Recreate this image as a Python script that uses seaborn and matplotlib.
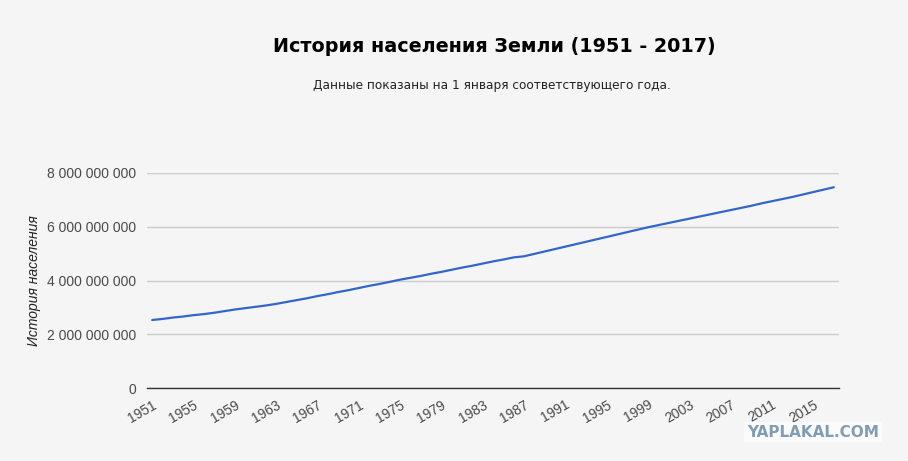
import matplotlib
matplotlib.use('Agg')
import matplotlib.pyplot as plt
import matplotlib.ticker as mticker
import numpy as np
import pandas as pd
import seaborn as sns

# население на 1 января, млрд
years = list(range(1951, 2018))
population_bn = [
    2.53, 2.57, 2.62, 2.66, 2.71, 2.75, 2.80, 2.86, 2.92, 2.97,
    3.02, 3.07, 3.13, 3.20, 3.27, 3.34, 3.42, 3.49, 3.57, 3.64,
    3.72, 3.80, 3.87, 3.95, 4.03, 4.10, 4.17, 4.25, 4.32, 4.40,
    4.48, 4.55, 4.63, 4.71, 4.78, 4.86, 4.90, 4.99, 5.08, 5.17,
    5.26, 5.35, 5.44, 5.53, 5.62, 5.71, 5.80, 5.89, 5.98, 6.06,
    6.14, 6.22, 6.30, 6.38, 6.46, 6.54, 6.62, 6.70, 6.78, 6.87,
    6.95, 7.03, 7.11, 7.20, 7.29, 7.38, 7.47,
]
year_ticks = list(range(1951, 2016, 4))
pop_ticks = [0, 2e9, 4e9, 6e9, 8e9]

title = 'История населения Земли (1951 - 2017)'
subtitle = 'Данные показаны на 1 января соответствующего года.'
ylabel = 'История населения'

df = pd.DataFrame({'year': years, 'pop': np.array(population_bn) * 1e9})

sns.set_theme(style='white')
plt.rcParams['font.family'] = ['Liberation Sans', 'DejaVu Sans']
bg = '#f5f5f5'

fig = plt.figure(figsize=(9.08, 4.61), dpi=100, facecolor=bg)
ax = fig.add_axes([147 / 908, 1 - 388 / 461, (839 - 147) / 908, (388 - 173) / 461])
ax.set_facecolor(bg)

sns.lineplot(data=df, x='year', y='pop', ax=ax, color='#3366cc', linewidth=1.6)

ax.set_xlim(1950.5, 2017.5)
ax.set_ylim(0, 8e9)
ax.set_yticks(pop_ticks)
ax.yaxis.set_major_formatter(mticker.FuncFormatter(lambda v, p: f'{int(v):,}'.replace(',', ' ')))
ax.set_xticks(year_ticks)
ax.set_xticklabels([str(y) for y in year_ticks], rotation=30, ha='right',
                   rotation_mode='anchor')
ax.tick_params(axis='both', length=0, labelsize=10, colors='#4a4a4a')
ax.tick_params(axis='x', pad=7)
ax.tick_params(axis='y', pad=8)
for s in ['top', 'right', 'left']:
    ax.spines[s].set_visible(False)
ax.spines['bottom'].set_color('#333333')
ax.spines['bottom'].set_linewidth(1)
ax.grid(axis='y', color='#cccccc', linewidth=1)
ax.set_axisbelow(True)
ax.set_xlabel('')
ax.set_ylabel(ylabel, fontsize=10, style='italic', color='#222222', labelpad=4)

fig.text(494 / 908, 1 - 47 / 461, title, ha='center', va='center',
         fontsize=13.8, fontweight='bold', family='DejaVu Sans', color='#000000')
fig.text(492 / 908, 1 - 85 / 461, subtitle, ha='center', va='center',
         fontsize=8.7, family='DejaVu Sans', color='#222222')
fig.text(813 / 908, 1 - 432 / 461, 'YAPLAKAL.COM', ha='center', va='center',
         fontsize=11, fontweight='bold', family='DejaVu Sans', color='#809db5',
         bbox=dict(facecolor='#fbfbfb', edgecolor='none', pad=2))

fig.savefig('out.png', dpi=100, facecolor=bg)
